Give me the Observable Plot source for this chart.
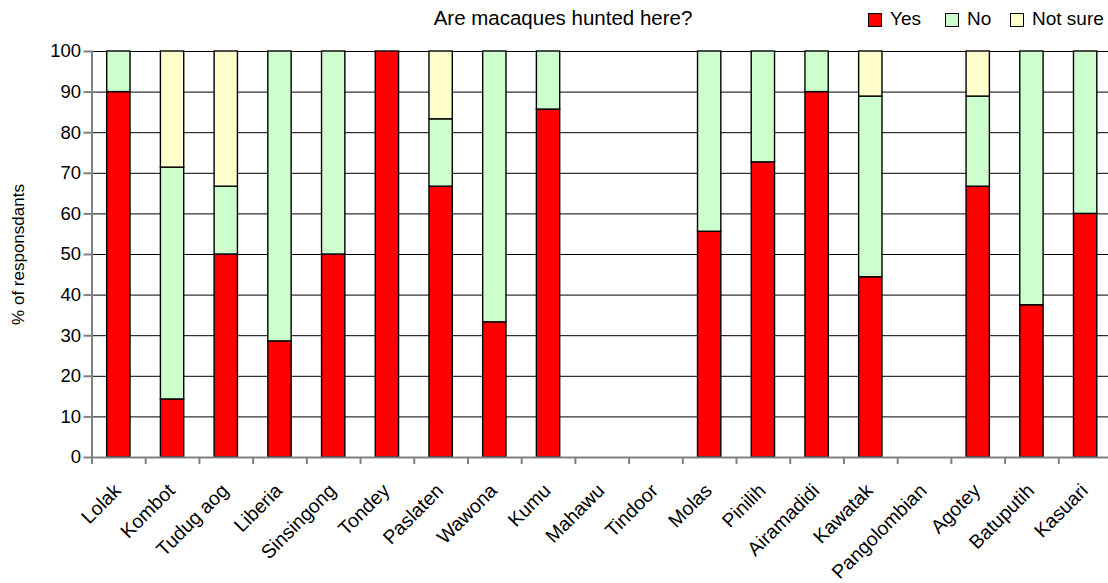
<!DOCTYPE html>
<html>
<head>
<meta charset="utf-8">
<script src="https://cdn.jsdelivr.net/npm/d3@7"></script>
<script src="https://cdn.jsdelivr.net/npm/@observablehq/plot@0.6"></script>
<style>
  body { margin: 0; background: #fff; font-family: "Liberation Sans", Arial, sans-serif; color: #000; }
  #wrap { position: relative; width: 1108px; height: 583px; overflow: hidden; }
  #chart { position: absolute; left: 0; top: 0; }
  #title { position: absolute; left: 363px; width: 400px; top: 6px; text-align: center; font-size: 20.5px; }
  #legend { position: absolute; top: 8px; left: 868px; font-size: 19px; white-space: nowrap; }
  .item { position: absolute; top: 0; }
  .sw { position: absolute; top: 5px; width: 12px; height: 12px; border: 1px solid #000; }
  .lab { position: absolute; top: 0; line-height: 22px; }
</style>
</head>
<body>
<div id="wrap">
  <div id="chart"></div>
  <div id="title">Are macaques hunted here?</div>
  <div id="legend"></div>
</div>
<script>
// Survey villages, left to right
const sites = ["Lolak", "Kombot", "Tudug aog", "Liberia", "Sinsingong", "Tondey", "Paslaten",
  "Wawona", "Kumu", "Mahawu", "Tindoor", "Molas", "Pinilih", "Airamadidi", "Kawatak",
  "Pangolombian", "Agotey", "Batuputih", "Kasuari"];

// Share of respondents (%) per answer
const yes     = [90, 14.3, 50, 28.6, 50, 100, 66.7, 33.3, 85.7, 0, 0, 55.6, 72.7, 90, 44.4, 0, 66.7, 37.5, 60];
const no      = [10, 57.1, 16.7, 71.4, 50, 0, 16.6, 66.7, 14.3, 0, 0, 44.4, 27.3, 10, 44.5, 0, 22.2, 62.5, 40];
const notSure = [0, 28.6, 33.3, 0, 0, 0, 16.7, 0, 0, 0, 0, 0, 0, 0, 11.1, 0, 11.1, 0, 0];

const answers = ["Yes", "No", "Not sure"];
const answerColors = ["#FF0000", "#CCFFCC", "#FFFFCC"];
const yTicks = [0, 10, 20, 30, 40, 50, 60, 70, 80, 90, 100];
const yTitle = "% of responsdants";

const series = [yes, no, notSure];
const rows = sites.flatMap((site, i) =>
  answers.map((answer, k) => ({site, answer, pct: series[k][i]}))
).filter(d => d.pct > 0);

const W = 1108, H = 583;
const mL = 91.5, mR = -4, mT = 51, mB = 126;
const step = (W - mL - mR) / sites.length;
const pad = 0.566;
const font = 18.5;

const chart = Plot.plot({
  width: W,
  height: H,
  marginLeft: mL,
  marginRight: mR,
  marginTop: mT,
  marginBottom: mB,
  style: {fontFamily: "'Liberation Sans', Arial, sans-serif", fontSize: font + "px", background: "transparent", overflow: "visible", color: "#000"},
  x: {domain: sites, paddingInner: pad, paddingOuter: pad / 2, round: false, label: null},
  y: {domain: [0, 100], label: null},
  color: {domain: answers, range: answerColors},
  marks: [
    Plot.gridY(yTicks, {stroke: "#000", strokeOpacity: 1, strokeWidth: 1}),
    Plot.barY(rows, {x: "site", y: "pct", fill: "answer", stroke: "#000", strokeWidth: 1.4}),
    // category separators on the bottom axis
    Plot.ruleX(sites, {x: d => d, y1: 0, y2: 0, insetBottom: -7, dx: -step / 2, stroke: "#808080", strokeWidth: 2}),
    Plot.frame({anchor: "left", stroke: "#808080", strokeWidth: 2}),
    Plot.frame({anchor: "bottom", stroke: "#808080", strokeWidth: 2}),
    Plot.axisY(yTicks, {tickSize: 8, stroke: "#808080", strokeWidth: 2, tickPadding: 3, label: null, fill: "#000", fontSize: font}),
    Plot.axisX({tickSize: 0, tickRotate: -45, tickPadding: 30, dx: -1, label: null, fill: "#000", fontSize: 19.5}),
    Plot.text([yTitle], {frameAnchor: "left", dx: -73.5, rotate: -90, textAnchor: "middle", fontSize: 17, fill: "#000"})
  ]
});
document.getElementById("chart").appendChild(chart);

// Legend
const legend = document.getElementById("legend");
const offsets = [0, 77, 142];
answers.forEach((a, k) => {
  const item = document.createElement("div");
  item.className = "item";
  item.style.left = offsets[k] + "px";
  item.innerHTML = `<div class="sw" style="background:${answerColors[k]}"></div><div class="lab" style="left:22px">${a}</div>`;
  legend.appendChild(item);
});
</script>
</body>
</html>
